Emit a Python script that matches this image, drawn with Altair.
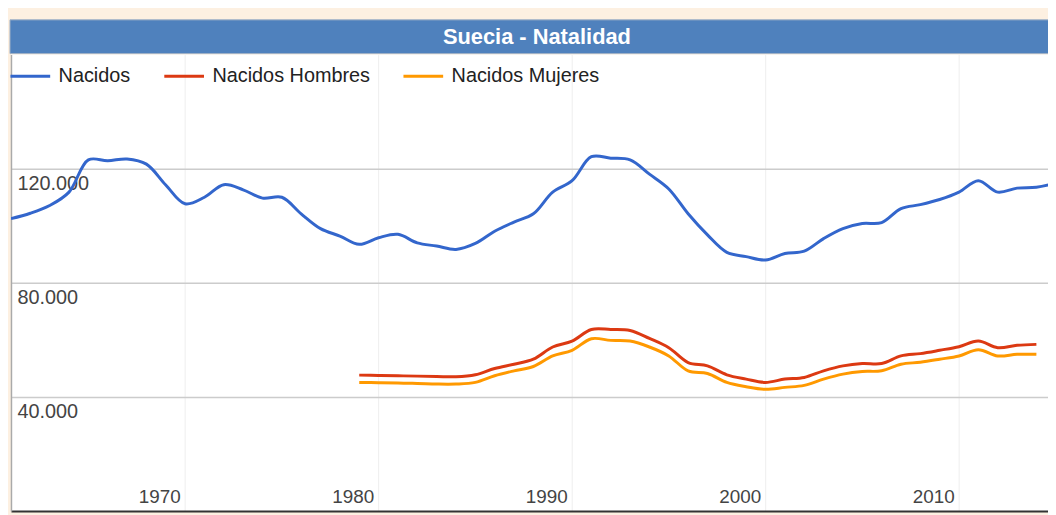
import altair as alt
import pandas as pd

TITLE = "Suecia - Natalidad"
SERIES = ["Nacidos", "Nacidos Hombres", "Nacidos Mujeres"]
COLORS = ["#3366cc", "#dc3912", "#ff9900"]

years_total = list(range(1960, 2015))
nacidos = [102500, 104400, 107100, 111800, 123100, 122800, 123400, 121600, 114300, 107700,
           110000, 114400, 112600, 109700, 110000, 104200, 99000, 96400, 93500, 95800,
           97000, 94000, 92900, 91700, 93800, 98100, 101300, 104200, 111800, 115800,
           124200, 123700, 123100, 118100, 112900, 104200, 96800, 90700, 89200, 88000,
           90300, 91100, 95500, 99000, 100800, 101100, 106000, 107400, 109200, 111800,
           115800, 111800, 113200, 113500, 114900]

years_mf = list(range(1978, 2014))
hombres = [47650, 47540, 47420, 47300, 47190, 47070, 47770, 49970, 51480, 53220,
           57510, 59600, 63650, 63650, 63300, 60520, 57270, 52060, 50900, 47770,
           46260, 45100, 46260, 46840, 49160, 50900, 51710, 51710, 54380, 55190,
           56350, 57620, 59600, 57270, 58090, 58430]
mujeres = [45100, 44990, 44870, 44750, 44520, 44520, 45100, 47420, 49160, 50680,
           54380, 56350, 60410, 59830, 59600, 57510, 54380, 49160, 48230, 45100,
           43600, 42670, 43360, 44060, 46260, 48000, 48930, 49160, 51480, 52170,
           53220, 54380, 56580, 54380, 54960, 54960]

x_grid = [1969, 1979, 1989, 1999, 2009]
y_ticks = [40000, 80000, 120000]

rows = []
for y, v in zip(years_total, nacidos):
    rows.append({"year": y, "value": v, "serie": SERIES[0]})
for y, v in zip(years_mf, hombres):
    rows.append({"year": y, "value": v, "serie": SERIES[1]})
for y, v in zip(years_mf, mujeres):
    rows.append({"year": y, "value": v, "serie": SERIES[2]})
df = pd.DataFrame(rows)

FONT = "Liberation Sans"
W, H = 1045, 460

lines = alt.Chart(df).mark_line(clip=True, strokeWidth=3, interpolate="catmull-rom").encode(
    x=alt.X("year:Q",
            scale=alt.Scale(domain=[1960, 2013.6], nice=False, zero=False),
            axis=alt.Axis(values=x_grid, title=None, grid=True, gridColor="#eeeeee",
                          gridWidth=1, ticks=False, tickSize=0,
                          labelExpr="'' + (datum.value + 1)",
                          labelPadding=-15, labelBaseline="middle", labelAlign="center",
                          labelOffset=-26, labelFont=FONT, labelFontSize=19,
                          labelColor="#444444", labelFlush=False, labelOverlap=False,
                          domainColor="#333333", domainWidth=2)),
    y=alt.Y("value:Q",
            scale=alt.Scale(domain=[0, 160000], nice=False),
            axis=alt.Axis(values=y_ticks, title=None, grid=True, gridColor="#cccccc",
                          gridWidth=1.5, ticks=False, tickSize=0,
                          labelExpr="replace(format(datum.value, ','), ',', '.')",
                          labelAlign="left", labelPadding=-6, labelBaseline="middle",
                          labelOffset=15, labelFont=FONT, labelFontSize=20,
                          labelColor="#444444", domainColor="#aaaaaa", domainWidth=1.5)),
    color=alt.Color("serie:N",
                    scale=alt.Scale(domain=SERIES, range=COLORS),
                    legend=alt.Legend(orient="none", legendX=-2, legendY=0,
                                      direction="horizontal", title=None,
                                      symbolType="stroke", symbolSize=1600,
                                      symbolStrokeWidth=3, labelFont=FONT,
                                      labelFontSize=20, labelColor="#222222",
                                      columnPadding=27, labelOffset=7, padding=0,
                                      labelLimit=0)),
    detail="serie:N",
)

title_df = pd.DataFrame({"t": [TITLE]})
bar = alt.Chart(title_df).mark_rect(color="#4f81bd", stroke="#9fb0c6", strokeWidth=1, clip=False).encode(
    x=alt.value(-1), x2=alt.value(W + 2), y=alt.value(-35), y2=alt.value(-1)
)
title_txt = alt.Chart(title_df).mark_text(font=FONT, fontWeight="bold", fontSize=22,
                                          color="white", align="center",
                                          baseline="middle", clip=False).encode(
    text="t:N", x=alt.value(530), y=alt.value(-18)
)

chart = alt.layer(bar, title_txt, lines).properties(
    width=W, height=H,
    padding={"left": 3, "top": 45, "right": 0, "bottom": 2},
    autosize=alt.AutoSizeParams(type="none"),
    background="#fdf0e1",
).configure_view(fill="white", stroke=None)

chart.save("out.html", embed_options={"renderer": "svg", "actions": False})
